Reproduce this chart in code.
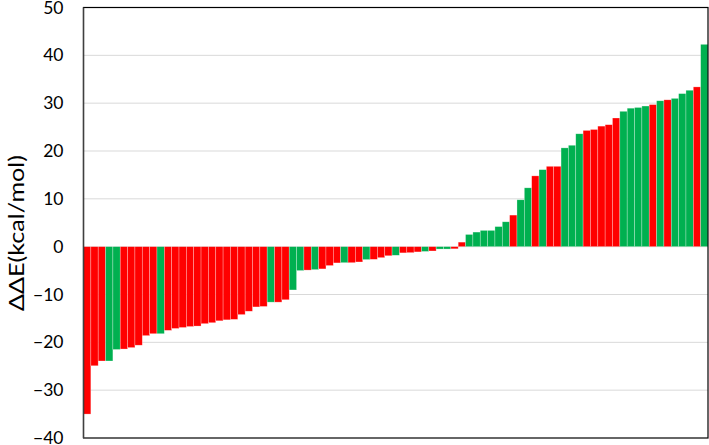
<!DOCTYPE html>
<html>
<head>
<meta charset="utf-8">
<script src="https://cdn.jsdelivr.net/npm/d3@7"></script>
<style>
  body { margin: 0; background: #fff; }
  .y-axis text { font-family: Lato, 'Open Sans', sans-serif; font-size: 17.5px; fill: #000; }
</style>
</head>
<body>
<div id="chart"></div>
<script>
// ΔΔE per system, sorted
const values = [
  -35.0, -24.9, -23.9, -23.9, -21.5, -21.4, -21.1, -20.6, -18.6, -18.2,
  -18.2, -17.5, -17.1, -16.9, -16.7, -16.6, -16.1, -15.9, -15.5, -15.3,
  -15.2, -14.2, -13.5, -12.6, -12.5, -11.6, -11.6, -11.1, -9.05, -5.0,
  -4.9, -4.8, -4.65, -3.95, -3.4, -3.35, -3.35, -3.2, -2.7, -2.65,
  -2.3, -1.9, -1.8, -1.3, -1.25, -1.1, -1.0, -0.9, -0.5, -0.5,
  -0.45, 0.95, 2.55, 3.05, 3.4, 3.4, 4.2, 5.2, 6.6, 9.8,
  12.3, 14.8, 16.1, 16.8, 16.8, 20.65, 21.2, 23.6, 24.3, 24.5,
  25.2, 25.5, 26.9, 28.3, 28.95, 29.1, 29.4, 29.7, 30.5, 30.7,
  31.0, 32.0, 32.7, 33.4, 42.3
]

// R = red, G = green
const groups = [
  'R', 'R', 'R', 'G', 'G', 'R', 'R', 'R', 'R', 'R',
  'G', 'R', 'R', 'R', 'R', 'R', 'R', 'R', 'R', 'R',
  'R', 'R', 'R', 'R', 'R', 'G', 'R', 'R', 'G', 'G',
  'R', 'G', 'R', 'R', 'R', 'G', 'R', 'R', 'G', 'R',
  'R', 'R', 'G', 'R', 'R', 'R', 'G', 'R', 'G', 'G',
  'R', 'R', 'G', 'G', 'G', 'G', 'G', 'G', 'R', 'G',
  'G', 'R', 'G', 'R', 'R', 'G', 'G', 'G', 'R', 'R',
  'R', 'R', 'R', 'G', 'G', 'G', 'G', 'R', 'G', 'R',
  'G', 'G', 'G', 'R', 'G'
]

const yTicks = [-40, -30, -20, -10, 0, 10, 20, 30, 40, 50]

const margin = { top: 7.5, left: 83.5, right: 1, bottom: 7 }
const width = 709 - margin.left - margin.right
const height = 445 - margin.top - margin.bottom

const svg = d3
  .select('#chart')
  .append('svg')
  .attr('width', 709)
  .attr('height', 445)
  .append('g')
  .attr('transform', 'translate(' + margin.left + ',' + margin.top + ')')

const xPositionScale = d3
  .scaleBand()
  .domain(values.map((d, i) => i))
  .range([0, width])
  .padding(0)

const yPositionScale = d3
  .scaleLinear()
  .domain([-40, 50])
  .range([height, 0])

const color = d3
  .scaleOrdinal()
  .domain(['R', 'G'])
  .range(['#ff0000', '#00b050'])

// gridlines
svg
  .selectAll('.grid')
  .data(yTicks.filter(d => d > -40 && d < 50))
  .enter()
  .append('line')
  .attr('class', 'grid')
  .attr('x1', 0)
  .attr('x2', width)
  .attr('y1', d => yPositionScale(d))
  .attr('y2', d => yPositionScale(d))
  .attr('stroke', '#d9d9d9')
  .attr('stroke-width', 1)

// bars
svg
  .selectAll('.bar')
  .data(values)
  .enter()
  .append('rect')
  .attr('class', 'bar')
  .attr('x', (d, i) => xPositionScale(i))
  .attr('width', xPositionScale.bandwidth())
  .attr('y', d => yPositionScale(Math.max(0, d)))
  .attr('height', d => Math.abs(yPositionScale(d) - yPositionScale(0)))
  .attr('fill', (d, i) => color(groups[i]))
  .attr('stroke', '#ffffff')
  .attr('stroke-opacity', 0.45)
  .attr('stroke-width', 0.6)

// plot frame
svg
  .append('rect')
  .attr('x', 0)
  .attr('y', 0)
  .attr('width', width)
  .attr('height', height)
  .attr('fill', 'none')
  .attr('stroke', '#000')
  .attr('stroke-width', 1.2)

svg
  .append('line')
  .attr('x1', 0)
  .attr('x2', 0)
  .attr('y1', 0)
  .attr('y2', height)
  .attr('stroke', '#404040')
  .attr('stroke-width', 1.4)

const yAxis = d3
  .axisLeft(yPositionScale)
  .tickValues(yTicks)
  .tickSize(0)
  .tickPadding(20)
svg
  .append('g')
  .attr('class', 'y-axis')
  .call(yAxis)
  .call(g => g.select('.domain').remove())

svg
  .append('text')
  .attr('transform', 'translate(' + (24 - margin.left) + ',' + (233 - margin.top) + ') rotate(-90)')
  .attr('text-anchor', 'middle')
  .attr('textLength', 156)
  .attr('lengthAdjust', 'spacingAndGlyphs')
  .style('font-family', 'Lato, sans-serif')
  .style('font-size', '22px')
  .text('ΔΔE(kcal/mol)')
</script>
</body>
</html>
